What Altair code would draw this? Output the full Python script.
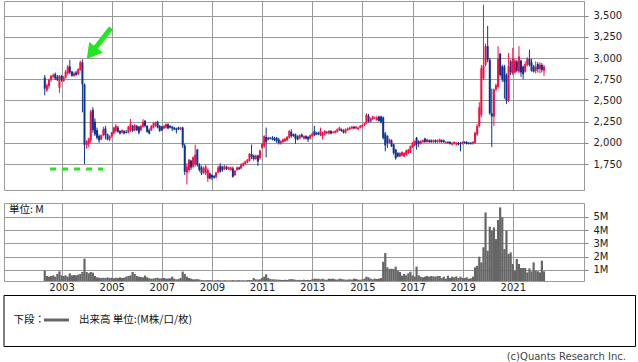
import altair as alt
import pandas as pd

# ---------------- data (monthly candles, May 2002 - Apr 2022) ----------------
start_month = "2002-05-01"

open_ = [2770, 2620, 2670, 2740, 2780, 2810, 2780, 2650, 2790, 2730,
         2770, 2820, 2900, 2840, 2790, 2830, 2810, 2860, 2950, 2690,
         1975, 1990, 2030, 2390, 2250, 2150, 2080, 2040, 2090, 2170,
         2100, 2040, 2080, 2110, 2140, 2180, 2140, 2120, 2140, 2130,
         2120, 2150, 2200, 2150, 2200, 2190, 2150, 2190, 2260, 2200,
         2150, 2150, 2180, 2200, 2250, 2200, 2190, 2170, 2180, 2220,
         2200, 2190, 2180, 2170, 2180, 2160, 2180, 1970, 1650, 1680,
         1790, 1720, 1750, 1920, 1740, 1710, 1650, 1640, 1580, 1640,
         1620, 1610, 1600, 1650, 1730, 1720, 1690, 1720, 1690, 1680,
         1700, 1620, 1680, 1710, 1700, 1730, 1750, 1770, 1790, 1870,
         1850, 1810, 1850, 1820, 1940, 1960, 2070, 2060, 2060, 2060,
         2060, 2060, 2040, 1990, 2010, 2020, 2030, 2060, 2130, 2100,
         2100, 2080, 2050, 2100, 2050, 2080, 2070, 2050, 2080, 2140,
         2120, 2120, 2090, 2080, 2100, 2130, 2110, 2140, 2120, 2120,
         2130, 2150, 2160, 2150, 2120, 2150, 2160, 2170, 2190, 2170,
         2160, 2180, 2190, 2210, 2230, 2320, 2250, 2280, 2290, 2270,
         2310, 2310, 2300, 2110, 2080, 2000, 2030, 1980, 1920, 1880,
         1840, 1850, 1840, 1860, 1880, 1890, 1950, 1970, 2060, 2020,
         1990, 2010, 2050, 2010, 2030, 2030, 2010, 2030, 2010, 2010,
         2030, 2030, 2000, 2010, 2010, 1980, 1990, 1980, 2000, 2000,
         1990, 2010, 2010, 2000, 2000, 1990, 2000, 2100, 2200, 2330,
         2760, 2920, 3140, 2980, 2350, 2310, 2630, 2660, 3050, 2900,
         2900, 2800, 2500, 2960, 2820, 2830, 2960, 2840, 2970, 2900,
         2840, 2920, 2990, 2950, 2900, 2850, 2930, 2870, 2920, 2850]

high = [2800, 2700, 2760, 2800, 2820, 2830, 2800, 2800, 2800, 2790,
        2860, 2920, 2980, 2850, 2840, 2850, 2880, 2970, 2985, 2700,
        2030, 2060, 2390, 2420, 2290, 2180, 2100, 2100, 2190, 2200,
        2110, 2090, 2130, 2190, 2220, 2200, 2150, 2160, 2150, 2150,
        2200, 2280, 2210, 2220, 2210, 2200, 2210, 2280, 2270, 2210,
        2170, 2210, 2240, 2250, 2260, 2210, 2200, 2210, 2230, 2230,
        2210, 2200, 2190, 2180, 2190, 2190, 2190, 1990, 1760, 1810,
        1800, 1840, 1980, 1930, 1760, 1730, 1720, 1740, 1700, 1650,
        1630, 1620, 1660, 1730, 1760, 1730, 1740, 1730, 1720, 1720,
        1720, 1680, 1720, 1720, 1760, 1770, 1790, 1810, 1880, 1980,
        1860, 1860, 1860, 1920, 2000, 2090, 2180, 2070, 2070, 2080,
        2070, 2070, 2060, 2030, 2050, 2060, 2080, 2150, 2160, 2110,
        2110, 2090, 2100, 2110, 2090, 2090, 2080, 2100, 2120, 2200,
        2130, 2130, 2180, 2130, 2150, 2140, 2150, 2150, 2140, 2150,
        2170, 2190, 2170, 2160, 2170, 2180, 2190, 2200, 2200, 2200,
        2190, 2210, 2220, 2240, 2350, 2340, 2300, 2320, 2310, 2320,
        2320, 2320, 2310, 2130, 2090, 2050, 2040, 1990, 1930, 1890,
        1890, 1900, 1890, 1920, 1930, 1970, 2010, 2030, 2070, 2030,
        2030, 2040, 2060, 2050, 2040, 2040, 2040, 2040, 2040, 2050,
        2040, 2040, 2020, 2020, 2020, 2010, 2020, 2010, 2010, 2010,
        2020, 2020, 2020, 2010, 2010, 2020, 2130, 2220, 2480, 2920,
        3630, 3170, 3380, 3000, 2640, 2640, 2700, 3140, 3060, 2920,
        2920, 2820, 3060, 2980, 3120, 2990, 2980, 3140, 2980, 2910,
        2960, 3010, 3100, 2990, 2920, 2960, 2950, 2950, 2940, 2920]

low = [2560, 2600, 2640, 2720, 2760, 2740, 2730, 2590, 2720, 2720,
       2760, 2800, 2810, 2780, 2780, 2790, 2800, 2850, 2360, 1750,
       1930, 1950, 2000, 2120, 2080, 2040, 2000, 2030, 2080, 2040,
       2030, 2020, 2060, 2100, 2130, 2120, 2100, 2110, 2100, 2110,
       2110, 2130, 2130, 2140, 2140, 2100, 2140, 2180, 2180, 2120,
       2100, 2140, 2170, 2190, 2170, 2130, 2140, 2160, 2170, 2160,
       2170, 2140, 2150, 2110, 2150, 2150, 1940, 1620, 1510, 1650,
       1680, 1700, 1720, 1720, 1660, 1620, 1630, 1620, 1540, 1570,
       1560, 1580, 1580, 1640, 1650, 1660, 1680, 1680, 1680, 1670,
       1590, 1610, 1670, 1680, 1690, 1720, 1740, 1760, 1780, 1810,
       1790, 1800, 1730, 1800, 1930, 1940, 1830, 2030, 2040, 2030,
       2020, 2000, 1980, 1980, 2000, 2010, 2020, 2050, 2060, 2070,
       1990, 2030, 2040, 2060, 2040, 2040, 2010, 2040, 2070, 2080,
       2090, 2090, 2080, 2040, 2090, 2100, 2100, 2100, 2110, 2110,
       2120, 2140, 2130, 2110, 2110, 2140, 2150, 2160, 2160, 2160,
       2150, 2170, 2180, 2200, 2220, 2240, 2240, 2270, 2280, 2260,
       2250, 2230, 2040, 1900, 1940, 1990, 1950, 1860, 1800, 1830,
       1830, 1840, 1830, 1850, 1870, 1880, 1940, 1960, 1920, 1950,
       1980, 2000, 2000, 2000, 2000, 2000, 2000, 2000, 2000, 2000,
       2000, 2000, 1990, 1990, 1980, 1970, 1980, 1970, 1970, 1900,
       1980, 1990, 1980, 1980, 1980, 1980, 1990, 2080, 2180, 2300,
       2740, 2900, 2950, 2330, 1950, 2200, 2610, 2640, 2780, 2720,
       2520, 2460, 2480, 2800, 2800, 2820, 2830, 2820, 2780, 2750,
       2830, 2900, 2900, 2840, 2830, 2820, 2830, 2820, 2830, 2790]

close = [2640, 2680, 2740, 2790, 2800, 2760, 2740, 2790, 2740, 2770,
         2840, 2900, 2830, 2790, 2820, 2800, 2870, 2950, 2690, 1980,
         2020, 2050, 2370, 2150, 2100, 2060, 2030, 2090, 2160, 2090,
         2040, 2080, 2120, 2180, 2200, 2130, 2110, 2150, 2110, 2120,
         2190, 2220, 2140, 2210, 2150, 2120, 2200, 2250, 2200, 2130,
         2110, 2200, 2230, 2240, 2180, 2140, 2150, 2200, 2220, 2170,
         2180, 2170, 2160, 2150, 2160, 2180, 1970, 1660, 1720, 1800,
         1710, 1830, 1860, 1740, 1680, 1640, 1700, 1720, 1680, 1580,
         1590, 1590, 1650, 1710, 1660, 1680, 1720, 1690, 1710, 1710,
         1600, 1670, 1710, 1690, 1740, 1760, 1780, 1800, 1870, 1830,
         1810, 1850, 1780, 1910, 1990, 2080, 2010, 2040, 2050, 2040,
         2030, 2020, 2000, 2020, 2040, 2050, 2070, 2140, 2080, 2080,
         2050, 2040, 2090, 2070, 2080, 2050, 2040, 2090, 2110, 2090,
         2100, 2100, 2140, 2120, 2140, 2120, 2140, 2110, 2130, 2140,
         2160, 2180, 2140, 2120, 2160, 2170, 2180, 2190, 2170, 2190,
         2180, 2200, 2210, 2230, 2330, 2250, 2290, 2310, 2300, 2300,
         2260, 2240, 2060, 1970, 2000, 2040, 1960, 1880, 1820, 1840,
         1880, 1890, 1880, 1910, 1920, 1960, 2000, 2020, 1980, 1990,
         2020, 2030, 2010, 2040, 2010, 2010, 2030, 2010, 2030, 2040,
         2010, 2010, 2010, 2000, 1990, 2000, 2010, 2000, 1980, 1990,
         2010, 2000, 1990, 1990, 1990, 2010, 2120, 2200, 2420, 2880,
         2910, 3140, 2980, 2350, 2310, 2630, 2680, 2990, 2800, 2750,
         2720, 2500, 2900, 2830, 3000, 2970, 2850, 3020, 2830, 2810,
         2930, 2990, 2920, 2850, 2840, 2900, 2870, 2920, 2860, 2900]

# volume in millions
volume = [0.95, 0.55, 0.5, 0.55, 0.6, 0.5, 0.7, 0.9, 0.6, 0.55,
          0.6, 0.5, 0.75, 0.6, 0.62, 0.6, 0.65, 0.7, 0.85, 1.85,
          0.85, 0.75, 0.85, 0.8, 0.55, 0.45, 0.42, 0.4, 0.42, 0.4,
          0.45, 0.4, 0.42, 0.38, 0.42, 0.4, 0.45, 0.4, 0.42, 0.5,
          0.55, 0.6, 0.85, 0.7, 0.55, 0.5, 0.48, 0.45, 0.58, 0.45,
          0.38, 0.35, 0.36, 0.4, 0.42, 0.37, 0.38, 0.4, 0.35, 0.36,
          0.38, 0.5, 0.35, 0.3, 0.32, 0.4, 0.88, 0.7, 0.5, 0.4,
          0.35, 0.3, 0.3, 0.32, 0.28, 0.25, 0.24, 0.23, 0.25, 0.24,
          0.23, 0.22, 0.23, 0.24, 0.23, 0.22, 0.24, 0.23, 0.22, 0.23,
          0.24, 0.22, 0.23, 0.24, 0.22, 0.23, 0.22, 0.24, 0.25, 0.25,
          0.4, 0.3, 0.28, 0.3, 0.4, 0.5, 0.68, 0.4, 0.32, 0.3,
          0.3, 0.28, 0.27, 0.26, 0.25, 0.27, 0.25, 0.3, 0.32, 0.3,
          0.27, 0.25, 0.26, 0.25, 0.27, 0.25, 0.26, 0.25, 0.3, 0.35,
          0.33, 0.35, 0.3, 0.35, 0.28, 0.27, 0.35, 0.33, 0.35, 0.3,
          0.28, 0.35, 0.33, 0.3, 0.27, 0.28, 0.3, 0.28, 0.35, 0.33,
          0.28, 0.27, 0.3, 0.35, 0.5, 0.45, 0.35, 0.3, 0.35, 0.33,
          0.35, 0.4, 1.62, 2.27, 1.2, 1.07, 1.1, 1.07, 1.25, 0.95,
          0.85, 0.57, 0.7, 0.6, 0.75, 0.87, 0.6, 0.5, 1.25, 0.6,
          0.5, 0.45, 0.5, 0.55, 0.5, 0.55, 0.52, 0.5, 0.55, 0.55,
          0.4, 0.5, 0.35, 0.57, 0.4, 0.5, 0.45, 0.52, 0.4, 0.5,
          0.4, 0.4, 0.45, 0.35, 0.37, 0.5, 1.2, 1.32, 2.0, 1.57,
          2.7, 5.32, 2.45, 4.25, 3.95, 4.2, 3.32, 4.75, 5.7, 4.95,
          2.57, 3.95, 2.2, 2.32, 1.45, 0.95, 1.82, 1.45, 1.15, 1.15,
          1.15, 0.82, 1.12, 0.9, 1.57, 0.95, 0.9, 0.82, 1.7, 0.9]

price_ticks = [1750, 2000, 2250, 2500, 2750, 3000, 3250, 3500]
volume_ticks = [1, 2, 3, 4, 5]
year_ticks = [2003, 2005, 2007, 2009, 2011, 2013, 2015, 2017, 2019, 2021]

# annotation (green arrow + dashed line), in data coordinates
arrow_dates = ["2004-12-21", "2004-03-11"]
arrow_prices = [3355, 3058]
dash_dates = ["2002-07-17", "2004-08-28"]
dash_price = 1691

legend_label = "出来高 単位:(M株/口/枚)"
legend_prefix = "下段："
unit_label = "単位: M"
copyright_label = "(c)Quants Research Inc."

# ---------------- build ----------------
df = pd.DataFrame({
    "date": pd.date_range(start_month, periods=len(open_), freq="MS"),
    "open": open_, "high": high, "low": low, "close": close, "vol": volume,
})
df["dir"] = ["up" if c >= o else "down" for o, c in zip(open_, close)]

RED = "#ff0a40"
BLUE = "#0a3396"
GREEN = "#22e622"
GRID = "#9a9a9a"

x_scale = alt.Scale(domain=[alt.DateTime(year=2000, month=11, date=26),
                            alt.DateTime(year=2023, month=8, date=24)])
year_vals = [alt.DateTime(year=y, month=1, date=1) for y in year_ticks]

x_price_axis = alt.Axis(values=year_vals, labels=False, ticks=False, tickSize=0,
                        domain=False, grid=True, title=None)
x_vol_axis = alt.Axis(values=year_vals, format="%Y", ticks=False, tickSize=0,
                      domain=False, grid=True, title=None, labelPadding=1,
                      labelOverlap=False, labelFlush=False)

price_scale = alt.Scale(domain=[1444, 3673], zero=False, nice=False)
price_axis = alt.Axis(orient="right", values=price_ticks, format=",d", tickSize=4,
                      labelPadding=5, grid=True, domain=False, title=None)


def px(field):
    return alt.X(field, scale=x_scale, axis=x_price_axis, title=None)


def py(field):
    return alt.Y(field, scale=price_scale, axis=price_axis, title=None)


color = alt.Color("dir:N", scale=alt.Scale(domain=["up", "down"], range=[RED, BLUE]),
                  legend=None)

base = alt.Chart(df)

wick = base.mark_rule(strokeWidth=1).encode(
    x=px("date:T"), y=py("low:Q"), y2="high:Q", color=color,
)
body = base.mark_bar(size=2).encode(
    x=px("date:T"), y=py("open:Q"), y2="close:Q", color=color,
)

dash_df = pd.DataFrame({"date": [dash_dates[0]], "d2": [dash_dates[1]], "low": [dash_price]})
dash = alt.Chart(dash_df).mark_rule(color=GREEN, strokeWidth=3, strokeDash=[6, 6]).encode(
    x=px("date:T"), x2="d2:T", y=py("low:Q"),
)

arrow_df = pd.DataFrame({"date": [arrow_dates[0]], "d2": [arrow_dates[1]],
                         "low": [arrow_prices[0]], "p2": [arrow_prices[1]]})
shaft = alt.Chart(arrow_df).mark_rule(color=GREEN, strokeWidth=5).encode(
    x=px("date:T"), x2="d2:T", y=py("low:Q"), y2="p2:Q",
)
head_df = pd.DataFrame({"date": [arrow_dates[1]], "low": [arrow_prices[1]]})
head = alt.Chart(head_df).mark_point(shape="triangle-up", filled=True, size=300,
                                     angle=218, color=GREEN, opacity=1).encode(
    x=px("date:T"), y=py("low:Q"),
)

price_chart = alt.layer(wick, body, dash, shaft, head).properties(width=580, height=189)

# volume panel
vol_scale = alt.Scale(domain=[0.174, 6.03], zero=False, nice=False)
vol_axis = alt.Axis(orient="right", values=volume_ticks, labelExpr="datum.value + 'M'",
                    tickSize=4, labelPadding=5, grid=True, domain=False, title=None)

vol_bars = base.mark_bar(size=2.2, color="#666666", clip=True).encode(
    x=alt.X("date:T", scale=x_scale, axis=x_vol_axis, title=None),
    y=alt.Y("vol:Q", scale=vol_scale, axis=vol_axis, title=None),
)

one = pd.DataFrame({"k": [0]})
JP = "Noto Sans CJK JP"
unit_text = alt.Chart(one).mark_text(text=unit_label, align="left", baseline="middle",
                                     font=JP, fontSize=10.5, color="#111").encode(
    x=alt.value(5), y=alt.value(7))
legend_box = alt.Chart(one).mark_rect(fill="white", stroke="#000", strokeWidth=1).encode(
    x=alt.value(0), x2=alt.value(631.5), y=alt.value(92.5), y2=alt.value(143.5))
legend_pre = alt.Chart(one).mark_text(text=legend_prefix, align="left", baseline="middle",
                                      font=JP, fontSize=10.5, color="#111").encode(
    x=alt.value(9.5), y=alt.value(116.5))
legend_line = alt.Chart(one).mark_rule(color="#666666", strokeWidth=3).encode(
    x=alt.value(40), x2=alt.value(65), y=alt.value(117))
legend_txt = alt.Chart(one).mark_text(text=legend_label, align="left", baseline="middle",
                                      font=JP, fontSize=10.5, color="#111").encode(
    x=alt.value(75), y=alt.value(116.5))
copy_txt = alt.Chart(one).mark_text(text=copyright_label, align="right", baseline="middle",
                                    font="DejaVu Sans", fontSize=10, color="#444").encode(
    x=alt.value(622), y=alt.value(154))

vol_chart = alt.layer(vol_bars, unit_text, legend_box, legend_pre, legend_line,
                      legend_txt, copy_txt).properties(width=580, height=78)

chart = alt.vconcat(price_chart, vol_chart, spacing=11).properties(
    padding={"left": 3, "top": 0, "right": 0, "bottom": 0}
).configure_view(
    stroke=GRID, strokeWidth=1
).configure_axis(
    gridColor=GRID, gridWidth=1, gridOpacity=1,
    tickColor="#888888", labelFont="DejaVu Sans", labelFontSize=10,
    labelColor="#222222",
)

chart.save("out.html", embed_options={"renderer": "svg", "actions": False})
